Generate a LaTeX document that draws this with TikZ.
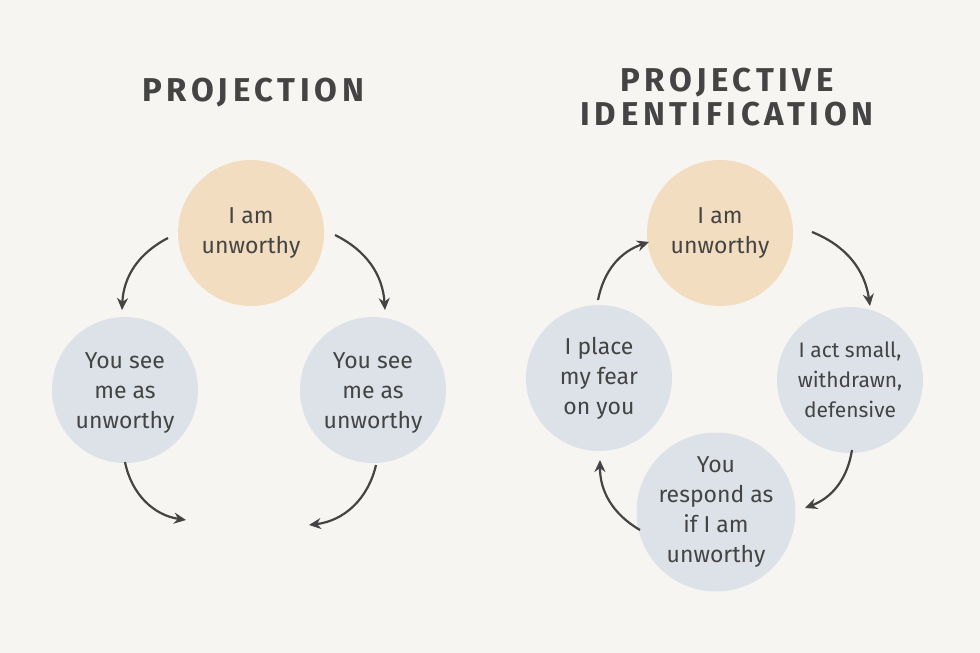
\documentclass[tikz,border=0pt]{standalone}
\usepackage{fontspec}
\setmainfont{Fira Sans}
\usetikzlibrary{arrows.meta}
\definecolor{bg}{HTML}{F7F5F1}
\definecolor{peach}{HTML}{F2DDC0}
\definecolor{bluegray}{HTML}{DCE2E8}
\definecolor{ink}{HTML}{444444}
\tikzset{
  bubble/.style={circle,minimum size=146pt,inner sep=0pt,align=center,font=\fontsize{23}{30}\selectfont,text=ink},
  warm/.style={bubble,fill=peach},
  cool/.style={bubble,fill=bluegray},
  ttl/.style={font=\fontsize{33}{34}\selectfont\addfontfeatures{LetterSpace=14}\fontseries{sb}\selectfont,text=ink,align=center},
  arr/.style={draw=ink,line width=2.2pt,-{Stealth[length=12pt,width=11pt]}}
}
\begin{document}
\begin{tikzpicture}[x=1pt,y=-1pt]
\fill[bg] (0,0) rectangle (980,653);
\useasboundingbox (0,0) rectangle (980,653);
\node[ttl] (t1) at (253,93) {PROJECTION};
\node[ttl] (t2) at (727,97) {PROJECTIVE\\IDENTIFICATION};
% left
\node[warm] (a) at (251,233) {I am\\unworthy};
\node[cool] (b) at (125,390) {\\[-8pt]You see\\me as\\unworthy};
\node[cool] (c) at (373,390) {\\[-8pt]You see\\me as\\unworthy};
\coordinate (a1) at (168,238);\coordinate (b1) at (122,310);
\coordinate (a2) at (335,235);\coordinate (c1) at (385,310);
\coordinate (b2) at (125,462);\coordinate (e1) at (186,520);
\coordinate (c2) at (376,465);\coordinate (e2) at (309,525);
\draw[arr] (a1) to[bend right=30] (b1);
\draw[arr] (a2) to[bend left=30] (c1);
\draw[arr] (b2) to[bend right=35] (e1);
\draw[arr] (c2) to[bend left=35] (e2);
% right
\node[warm] (p) at (720,233) {I am\\unworthy};
\node[cool] (q) at (850,380) [font=\fontsize{21}{30}\selectfont] {I act small,\\withdrawn,\\defensive};
\node[cool] (r) at (716,512) [minimum size=132pt] {You\\respond as\\if I am\\unworthy};
\node[cool] (s) at (599,378) {I place\\my fear\\on you};
\coordinate (p1) at (812,232);\coordinate (q1) at (870,306);
\coordinate (q2) at (852,450);\coordinate (r1) at (805,508);
\coordinate (r2) at (640,530);\coordinate (s1) at (600,460);
\coordinate (s2) at (598,300);\coordinate (p2) at (649,242);
\draw[arr] (p1) to[bend left=30] (q1);
\draw[arr] (q2) to[bend left=30] (r1);
\draw[arr] (r2) to[bend left=30] (s1);
\draw[arr] (s2) to[bend left=30] (p2);
\end{tikzpicture}
\end{document}
